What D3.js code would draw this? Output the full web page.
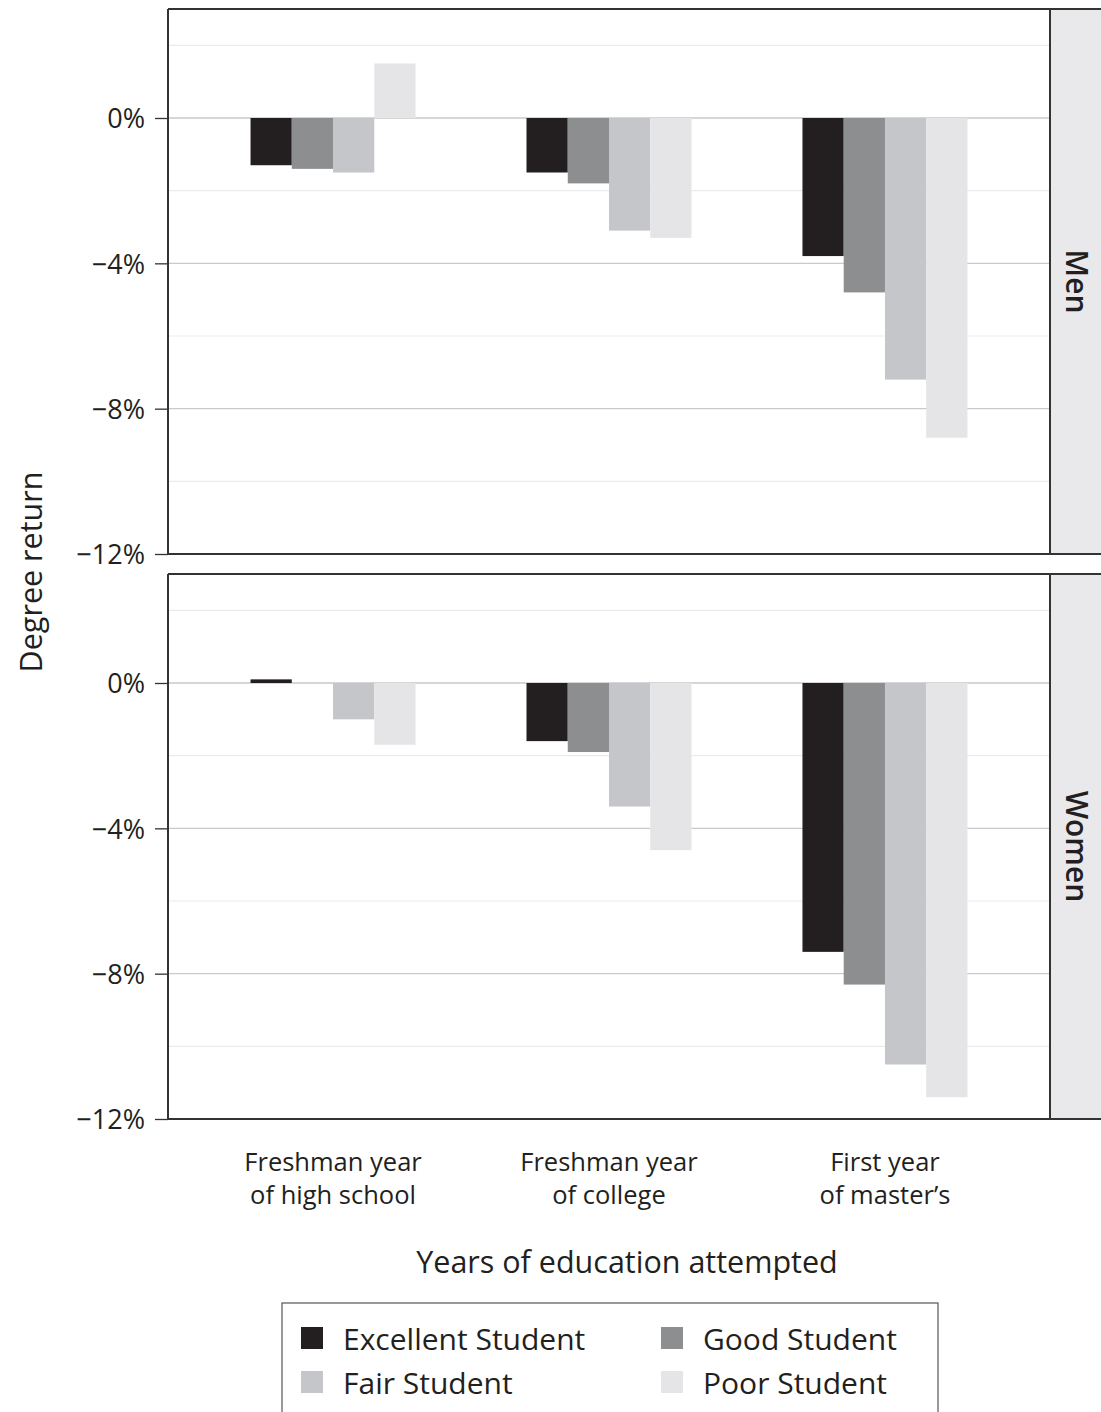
<!DOCTYPE html>
<html>
<head>
<meta charset="utf-8">
<script src="https://cdn.jsdelivr.net/npm/d3@7"></script>
<style>
  body { margin: 0; background: #fff; }
  svg { display: block; font-family: "Open Sans", "Noto Sans", sans-serif; }
</style>
</head>
<body>
<svg id="chart" width="1101" height="1412"></svg>
<script>
// Education stages attempted (x categories)
const stages = ["hs", "college", "masters"];
const stageLabels = [["Freshman year", "of high school"], ["Freshman year", "of college"], ["First year", "of master\u2019s"]];
// Student types (series)
const students = ["Excellent Student", "Good Student", "Fair Student", "Poor Student"];
const studentColors = ["#231f20", "#8d8e90", "#c5c6c9", "#e5e5e7"];
// Panels
const panels = ["Men", "Women"];
// Degree return (%) by stage, one array per student type
const menExcellent = [-1.3, -1.5, -3.8];
const menGood      = [-1.4, -1.8, -4.8];
const menFair      = [-1.5, -3.1, -7.2];
const menPoor      = [ 1.5, -3.3, -8.8];
const womenExcellent = [ 0.1, -1.6,  -7.4];
const womenGood      = [ 0.0, -1.9,  -8.3];
const womenFair      = [-1.0, -3.4, -10.5];
const womenPoor      = [-1.7, -4.6, -11.4];
// Axis ticks
const majorTicks = [0, -4, -8, -12];
const minorTicks = [2, -2, -6, -10];

const panelData = {
  Men: [menExcellent, menGood, menFair, menPoor],
  Women: [womenExcellent, womenGood, womenFair, womenPoor]
};

const svg = d3.select("#chart");
const left = 168, right = 1050, stripW = 51;
const panelTops = [9, 574], panelH = 545;

const x = d3.scalePoint().domain(stages).range([left, right]).padding(0.598);
const xInner = d3.scaleBand().domain(students).range([-82.5, 82.5]);

const fmt = v => (v < 0 ? "\u2212" : "") + Math.abs(v) + "%";

panels.forEach((p, pi) => {
  const top = panelTops[pi];
  const y = d3.scaleLinear().domain([-12, 3]).range([top + panelH, top]);
  const g = svg.append("g");

  // strip background
  g.append("rect").attr("x", right).attr("y", top).attr("width", stripW + 5).attr("height", panelH)
    .attr("fill", "#e9e9eb");

  // gridlines
  g.selectAll(".minor").data(minorTicks).join("line")
    .attr("x1", left).attr("x2", right).attr("y1", d => y(d)).attr("y2", d => y(d))
    .attr("stroke", "#ebebeb").attr("stroke-width", 1.2);
  g.selectAll(".major").data(majorTicks).join("line")
    .attr("x1", left).attr("x2", right).attr("y1", d => y(d)).attr("y2", d => y(d))
    .attr("stroke", "#c9c9c9").attr("stroke-width", 1.3);

  // bars
  const series = panelData[p];
  students.forEach((s, si) => {
    g.append("g").selectAll("rect").data(series[si]).join("rect")
      .attr("x", (d, i) => x(stages[i]) + xInner(s))
      .attr("width", xInner.bandwidth())
      .attr("y", d => y(Math.max(0, d)))
      .attr("height", d => Math.abs(y(d) - y(0)))
      .attr("fill", studentColors[si]);
  });

  // y axis
  const yAxis = d3.axisLeft(y).tickValues(majorTicks).tickFormat(fmt).tickSize(13).tickPadding(10);
  const ax = g.append("g").attr("transform", `translate(${left},0)`).call(yAxis);
  ax.select(".domain").remove();
  ax.selectAll(".tick line").attr("stroke", "#333").attr("stroke-width", 1.3);
  ax.selectAll(".tick text").attr("font-size", 27).attr("fill", "#231f20")
    .attr("font-family", "Open Sans, sans-serif").attr("dy", "0.36em");

  // panel frame
  g.append("line").attr("x1", left).attr("x2", left).attr("y1", top).attr("y2", top + panelH)
    .attr("stroke", "#333").attr("stroke-width", 2);
  g.append("line").attr("x1", left).attr("x2", 1101).attr("y1", top).attr("y2", top)
    .attr("stroke", "#333").attr("stroke-width", 2);
  g.append("line").attr("x1", left).attr("x2", 1101).attr("y1", top + panelH).attr("y2", top + panelH)
    .attr("stroke", "#333").attr("stroke-width", 2);
  g.append("line").attr("x1", right).attr("x2", right).attr("y1", top).attr("y2", top + panelH)
    .attr("stroke", "#333").attr("stroke-width", 2);

  // strip label
  g.append("text")
    .attr("transform", `translate(${right + 26},${top + panelH / 2}) rotate(90)`)
    .attr("text-anchor", "middle").attr("dy", "0.35em")
    .attr("font-size", 30).attr("font-weight", 600).attr("fill", "#231f20")
    .text(p);
});

// x category labels, two lines each
const xl = svg.append("g");
stages.forEach((s, i) => {
  stageLabels[i].forEach((line, li) => {
    xl.append("text").attr("x", x(s)).attr("y", 1171 + li * 33)
      .attr("text-anchor", "middle").attr("font-size", 25.5).attr("fill", "#231f20")
      .text(line);
  });
});

// axis titles
svg.append("text").attr("x", 627).attr("y", 1273).attr("text-anchor", "middle")
  .attr("font-size", 30.5).attr("fill", "#231f20").text("Years of education attempted");
svg.append("text").attr("transform", "translate(42,572) rotate(-90)").attr("text-anchor", "middle")
  .attr("font-size", 30.5).attr("fill", "#231f20").text("Degree return");

// legend
const lg = svg.append("g");
lg.append("rect").attr("x", 282).attr("y", 1303).attr("width", 656).attr("height", 130)
  .attr("fill", "none").attr("stroke", "#555").attr("stroke-width", 1.2);
const legX = [301, 661], legY = [1338, 1382];
students.forEach((s, i) => {
  const cx = legX[i % 2], cy = legY[Math.floor(i / 2)];
  lg.append("rect").attr("x", cx).attr("y", cy - 11).attr("width", 22).attr("height", 22)
    .attr("fill", studentColors[i]);
  lg.append("text").attr("x", cx + 42).attr("y", cy + 12)
    .attr("font-size", 30).attr("fill", "#231f20").text(s);
});
</script>
</body>
</html>
